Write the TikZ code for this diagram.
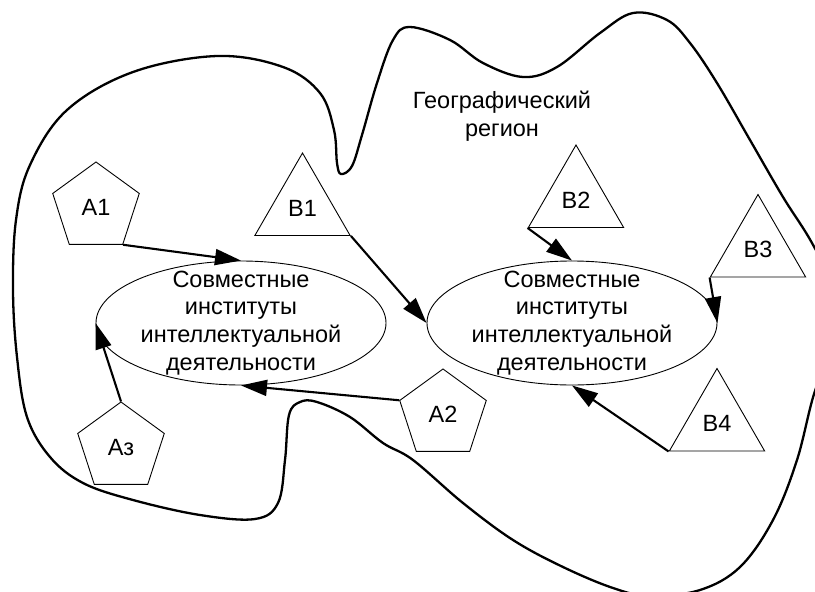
\documentclass[tikz,border=0pt]{standalone}
\usepackage{fontspec}
\setmainfont{Liberation Sans}
\usetikzlibrary{shapes.geometric,arrows.meta}
\begin{document}
\begin{tikzpicture}[x=1pt,y=-1pt,
  font=\fontsize{23.5}{27.8}\selectfont,
  region/.style={line width=2.3pt, line join=round},
  agent/.style={regular polygon, regular polygon sides=5, draw, line width=0.9pt,
    minimum size=91pt, inner sep=0pt},
  partner/.style={regular polygon, regular polygon sides=3, draw, line width=0.9pt,
    minimum size=110pt, inner sep=0pt},
  institute/.style={ellipse, draw, line width=0.9pt,
    minimum width=290pt, minimum height=124pt, inner sep=0pt},
  caption/.style={align=center, inner sep=0pt},
  link/.style={line width=2.1pt, -{Triangle[length=26pt,width=16pt]}}]

\fill[white] (0,0) rectangle (815,592);
\useasboundingbox (0,0) rectangle (815,592);

% outline of the geographic region
\begin{scope}
  \clip (0,0) rectangle (815,592);
  \draw[region] plot[smooth cycle, tension=0.6] coordinates {
    (13,290) (16,220) (30,165) (67,110) (133,72) (217,56) (283,67) (320,93)
    (334,130) (337,163) (341,174) (352,166) (362,135) (377,83) (393,40)
    (410,27) (450,40) (483,63) (523,77) (557,67) (600,33) (633,13) (667,20)
    (690,43) (717,83) (750,140) (783,197) (812,243) (840,300) (840,340)
    (816,388) (797,460) (773,520) (740,567) (700,590) (650,596) (613,588)
    (563,567) (513,540) (463,503) (413,460) (383,443) (350,417) (317,402)
    (300,402) (289,415) (285,460) (278,503) (255,519) (200,515) (133,500)
    (83,483) (50,457) (27,417) (17,357)};
\end{scope}

\node[caption] (geo) at (502,116) {Географический\\регион};

% joint institutes
\node[institute] (E1) at (241,323) {};
\node[caption] (E1t) at (E1.center) {Совместные\\институты\\интеллектуальной\\деятельности};
\node[institute] (E2) at (572,323) {};
\node[caption] (E2t) at (E2.center) {Совместные\\институты\\интеллектуальной\\деятельности};

% participants
\node[agent] (A1) at (96,207.5) {A1};
\node[agent] (A2) at (443,414.5) {A2};
\node[agent] (A3) at (121,447.5) {Аз};
\node[partner] (B1) at (302.5,208) {B1};
\node[partner] (B2) at (576,200) {B2};
\node[partner] (B3) at (758,249.5) {B3};
\node[partner] (B4) at (717,423.5) {B4};

% links
\draw[link] (A1.corner 4) -- (E1.north);
\draw[link] (A2.corner 2) -- (E1.south);
\draw[link] (A3.corner 1) -- (E1.west);
\draw[link] (B1.corner 3) -- (E2.west);
\draw[link] (B2.corner 2) -- (E2.north);
\draw[link] (B3.corner 2) -- (E2.east);
\draw[link] (B4.corner 2) -- (E2.south);
\end{tikzpicture}
\end{document}
